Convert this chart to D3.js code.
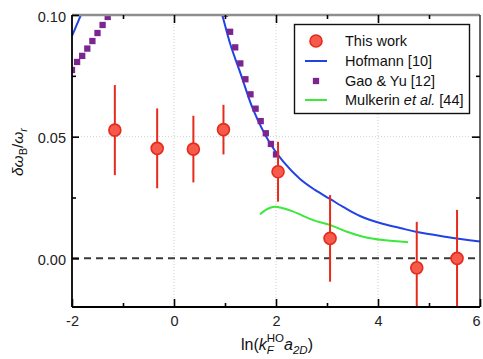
<!DOCTYPE html>
<html>
<head>
<meta charset="utf-8">
<script src="https://cdn.jsdelivr.net/npm/d3@7"></script>
<style>
  html, body { margin: 0; padding: 0; background: #fff; }
  svg { display: block; font-family: "Liberation Sans", Arial, Helvetica, sans-serif; }
</style>
</head>
<body>
<svg id="chart" width="483" height="359"></svg>
<script>
// Measured binding-energy shift: x = ln(kF a2D), value and symmetric error
const workX   = [-1.16, -0.33, 0.38, 0.97, 2.04, 3.06, 4.76, 5.55];
const workY   = [0.0527, 0.0452, 0.0449, 0.0529, 0.0356, 0.0082, -0.0039, 0.0000];
const workErr = [0.0185, 0.0164, 0.0137, 0.0102, 0.0123, 0.0178, 0.0189, 0.0199];

// Hofmann [10] theory curve (two branches either side of the divergence)
const hofLeftX  = [-2.00, -1.91, -1.82, -1.78];
const hofLeftY  = [0.0914, 0.0958, 0.1003, 0.1022];
const hofRightX = [0.90, 0.935, 1.098, 1.327, 1.555, 1.882, 2.143, 2.471, 2.765, 3.059, 3.353, 3.647, 4.039, 4.431, 4.765, 5.353, 6.00];
const hofRightY = [0.1025, 0.1007, 0.0884, 0.0746, 0.0610, 0.0473, 0.0397, 0.0326, 0.0281, 0.0244, 0.0207, 0.0174, 0.0145, 0.0125, 0.0108, 0.0088, 0.0069];

// Gao & Yu [12] points
const gaoX = [-2.0, -1.9, -1.8, -1.7, -1.6, -1.5, -1.4, -1.3,
              1.0, 1.1, 1.2, 1.3, 1.4, 1.5, 1.6, 1.7, 1.8, 1.9, 2.0];
const gaoY = [0.0774, 0.0807, 0.0832, 0.0862, 0.0893, 0.0926, 0.0959, 0.0992,
              0.1005, 0.0931, 0.0867, 0.0801, 0.0736, 0.0674, 0.0615, 0.0564, 0.0514, 0.0470, 0.0427];

// Mulkerin et al. [44] curve
const mulX = [1.686, 1.80, 1.90, 1.98, 2.10, 2.34, 2.73, 3.06, 3.39, 3.71, 4.10, 4.59];
const mulY = [0.0181, 0.0199, 0.0209, 0.0212, 0.0208, 0.0192, 0.0157, 0.0137, 0.0109, 0.0089, 0.0075, 0.0066];

// Axis ticks
const xMajor = [-2, 0, 2, 4, 6];
const xMinor = [-1, 1, 3, 5];
const yMajor = [0.00, 0.05, 0.10];
const yMinor = [0.025, 0.075];
const xGrid = [0, 2, 4];
const yGrid = [0.05];

const legendLabels = ["This work", "Hofmann [10]", "Gao & Yu [12]", "Mulkerin"];

const C = {
  red: "#f65a4a", redStroke: "#e62a1c",
  blue: "#2142e6", purple: "#7b2590", green: "#3be83b"
};

const svg = d3.select("#chart");
const L = 72, R = 480, T = 15, B = 307;
const x = d3.scaleLinear().domain([-2, 6]).range([L, R]);
const y = d3.scaleLinear().domain([-0.02, 0.10]).range([B, T]);

svg.append("defs").append("clipPath").attr("id", "plotClip")
  .append("rect").attr("x", L).attr("y", T).attr("width", R - L).attr("height", B - T);

// dotted grid
const grid = svg.append("g").attr("stroke", "#cfcfcf").attr("stroke-width", 1).attr("stroke-dasharray", "1,2");
grid.selectAll("line.v").data(xGrid).join("line").attr("class", "v")
  .attr("x1", d => x(d)).attr("x2", d => x(d)).attr("y1", T).attr("y2", B);
grid.selectAll("line.h").data(yGrid).join("line").attr("class", "h")
  .attr("x1", L).attr("x2", R).attr("y1", d => y(d)).attr("y2", d => y(d));

// zero reference line
svg.append("line")
  .attr("x1", L).attr("x2", R).attr("y1", y(0)).attr("y2", y(0))
  .attr("stroke", "#3a3a3a").attr("stroke-width", 2).attr("stroke-dasharray", "7,5");

const plot = svg.append("g").attr("clip-path", "url(#plotClip)");
const line = d3.line().x(d => x(d[0])).y(d => y(d[1])).curve(d3.curveCatmullRom);

// Hofmann
[[hofLeftX, hofLeftY], [hofRightX, hofRightY]].forEach(([xs, ys]) => {
  plot.append("path").datum(xs.map((v, i) => [v, ys[i]]))
    .attr("d", line).attr("fill", "none").attr("stroke", C.blue).attr("stroke-width", 2);
});

// Gao & Yu squares
const sq = 6.3;
plot.selectAll("rect.gao").data(gaoX.map((v, i) => [v, gaoY[i]])).join("rect")
  .attr("class", "gao")
  .attr("x", d => x(d[0]) - sq / 2).attr("y", d => y(d[1]) - sq / 2)
  .attr("width", sq).attr("height", sq).attr("fill", C.purple);

// Mulkerin
plot.append("path").datum(mulX.map((v, i) => [v, mulY[i]]))
  .attr("d", line).attr("fill", "none").attr("stroke", C.green).attr("stroke-width", 2);

// Measurements with error bars
const work = workX.map((v, i) => ({ x: v, y: workY[i], e: workErr[i] }));
plot.selectAll("line.err").data(work).join("line").attr("class", "err")
  .attr("x1", d => x(d.x)).attr("x2", d => x(d.x))
  .attr("y1", d => y(d.y + d.e)).attr("y2", d => y(d.y - d.e))
  .attr("stroke", C.redStroke).attr("stroke-width", 2);
plot.selectAll("circle.pt").data(work).join("circle").attr("class", "pt")
  .attr("cx", d => x(d.x)).attr("cy", d => y(d.y)).attr("r", 6)
  .attr("fill", C.red).attr("stroke", C.redStroke).attr("stroke-width", 1.6);

// frame
svg.append("line").attr("x1", L).attr("x2", R).attr("y1", T).attr("y2", T)
  .attr("stroke", "#8e8e8e").attr("stroke-width", 2.5);
svg.append("line").attr("x1", R).attr("x2", R).attr("y1", T).attr("y2", B)
  .attr("stroke", "#333").attr("stroke-width", 1.5);
svg.append("line").attr("x1", L).attr("x2", L).attr("y1", T).attr("y2", B)
  .attr("stroke", "#000").attr("stroke-width", 1.8);
svg.append("line").attr("x1", L).attr("x2", R).attr("y1", B).attr("y2", B)
  .attr("stroke", "#000").attr("stroke-width", 1.8);

// axes (ticks point inward)
function styleAxis(g) {
  g.select(".domain").remove();
  g.selectAll(".tick line").attr("stroke", "#000").attr("stroke-width", 1.6);
  g.selectAll(".tick text").attr("fill", "#222").attr("font-size", 14.5)
    .attr("font-family", "'Liberation Sans', Arial, sans-serif");
}
svg.append("g").attr("transform", `translate(0,${B})`)
  .call(d3.axisBottom(x).tickValues(xMajor).tickSize(-8).tickPadding(9).tickFormat(d => String(d)))
  .call(styleAxis)
  // keep the last label inside the page edge
  .call(g => g.selectAll(".tick text").filter(d => d === 6).attr("dx", -4));
svg.append("g").attr("transform", `translate(0,${B})`)
  .call(d3.axisBottom(x).tickValues(xMinor).tickSize(-4).tickFormat(""))
  .call(styleAxis);
svg.append("g").attr("transform", `translate(0,${T})`)
  .call(d3.axisTop(x).tickValues(xMajor.slice(1, -1)).tickSize(-8).tickFormat(""))
  .call(styleAxis);
svg.append("g").attr("transform", `translate(0,${T})`)
  .call(d3.axisTop(x).tickValues(xMinor).tickSize(-4).tickFormat(""))
  .call(styleAxis);
svg.append("g").attr("transform", `translate(${L},0)`)
  .call(d3.axisLeft(y).tickValues(yMajor).tickSize(-7).tickPadding(6).tickFormat(d3.format(".2f")))
  .call(styleAxis)
  .call(g => g.selectAll(".tick text").attr("dy", "0.42em"));
svg.append("g").attr("transform", `translate(${L},0)`)
  .call(d3.axisLeft(y).tickValues(yMinor).tickSize(-4).tickFormat(""))
  .call(styleAxis);
svg.append("g").attr("transform", `translate(${R},0)`)
  .call(d3.axisRight(y).tickValues([0.05]).tickSize(-8).tickFormat(""))
  .call(styleAxis);
svg.append("g").attr("transform", `translate(${R},0)`)
  .call(d3.axisRight(y).tickValues(yMinor).tickSize(-4).tickFormat(""))
  .call(styleAxis);

// axis titles
const xt = svg.append("text").attr("x", 277).attr("y", 350)
  .attr("text-anchor", "middle").attr("font-size", 16).attr("fill", "#111");
xt.append("tspan").text("ln(");
xt.append("tspan").attr("font-style", "italic").text("k");
const ho = xt.append("tspan").attr("font-size", 11.5).attr("dy", -8).text("HO");
const hoLen = ho.node().getComputedTextLength();
const fSub = xt.append("tspan").attr("font-size", 11.5).attr("font-style", "italic")
  .attr("dx", -hoLen).attr("dy", 12).text("F");
const fLen = fSub.node().getComputedTextLength();
xt.append("tspan").attr("font-style", "italic").attr("dx", hoLen - fLen).attr("dy", -4).text("a");
xt.append("tspan").attr("font-size", 11.5).attr("font-style", "italic").attr("dy", 4).text("2D");
xt.append("tspan").attr("dy", -4).text(")");

const yt = svg.append("text").attr("transform", "translate(23,152) rotate(-90)")
  .attr("text-anchor", "middle").attr("font-size", 15.5).attr("fill", "#111");
yt.append("tspan").attr("font-style", "italic").text("δω");
yt.append("tspan").attr("font-size", 11).attr("dy", 4).text("B");
yt.append("tspan").attr("dy", -4).text("/");
yt.append("tspan").attr("font-style", "italic").text("ω");
yt.append("tspan").attr("font-size", 11).attr("font-style", "italic").attr("dy", 4).text("r");

// legend
const lg = svg.append("g");
lg.append("rect").attr("x", 294.5).attr("y", 24.5).attr("width", 175).attr("height", 89)
  .attr("fill", "#fff").attr("stroke", "#111").attr("stroke-width", 1.4);
const rowY = [41, 61, 81, 100];
const symX = 316, txtX = 345;
lg.append("circle").attr("cx", symX).attr("cy", rowY[0]).attr("r", 6)
  .attr("fill", C.red).attr("stroke", C.redStroke).attr("stroke-width", 1.6);
lg.append("line").attr("x1", 305).attr("x2", 327).attr("y1", rowY[1]).attr("y2", rowY[1])
  .attr("stroke", C.blue).attr("stroke-width", 2);
lg.append("rect").attr("x", symX - sq / 2).attr("y", rowY[2] - sq / 2).attr("width", sq).attr("height", sq)
  .attr("fill", C.purple);
lg.append("line").attr("x1", 305).attr("x2", 327).attr("y1", rowY[3]).attr("y2", rowY[3])
  .attr("stroke", C.green).attr("stroke-width", 2);
legendLabels.forEach((t, i) => {
  const tx = lg.append("text").attr("x", txtX).attr("y", rowY[i] + 5)
    .attr("font-size", 14.5).attr("fill", "#111").text(t);
  if (i === 3) {
    tx.append("tspan").text(" ");
    tx.append("tspan").attr("font-style", "italic").text("et al.");
    tx.append("tspan").text(" [44]");
  }
});
</script>
</body>
</html>
